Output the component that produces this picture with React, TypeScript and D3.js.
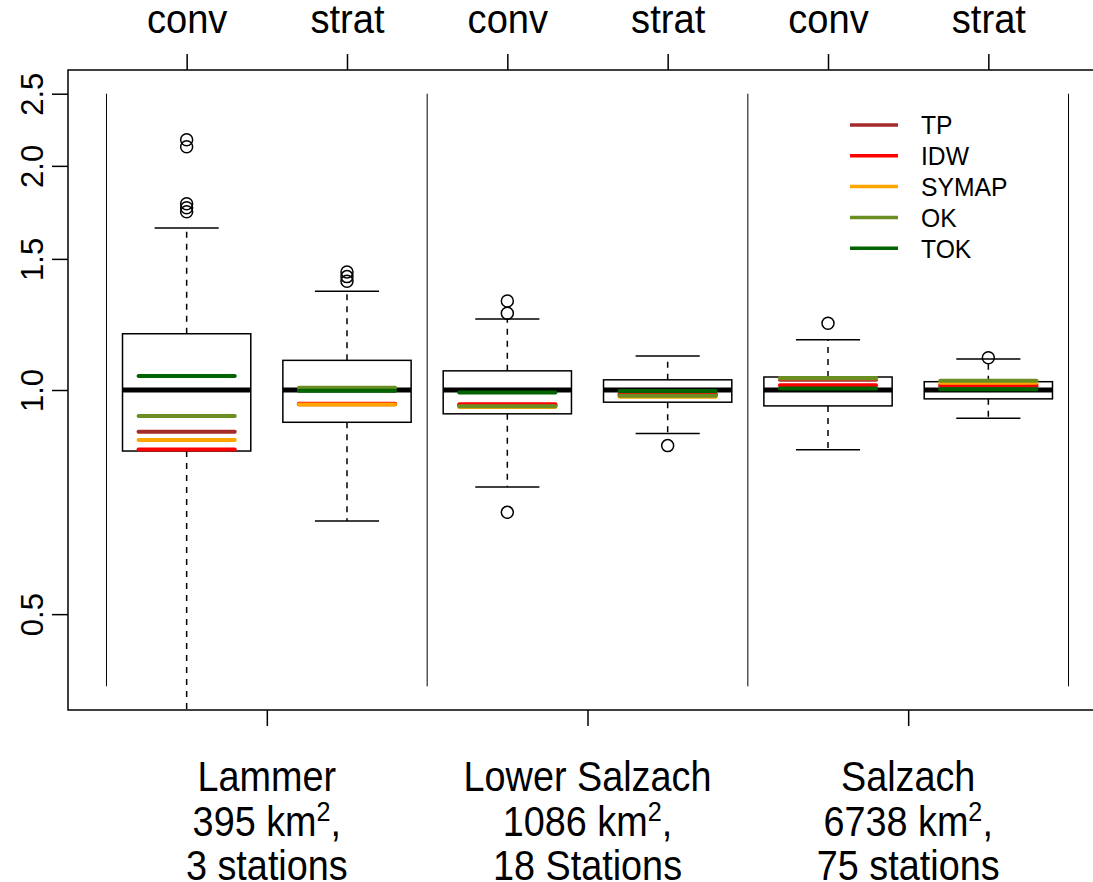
import React, { useEffect, useRef } from 'react';
import * as d3 from 'd3';

// categories
const boxLabels = ['conv', 'strat', 'conv', 'strat', 'conv', 'strat'];
const catchments = ['Lammer', 'Lower Salzach', 'Salzach'];
const areas = ['395', '1086', '6738'];
const stations = ['3 stations', '18 Stations', '75 stations'];

// box statistics (ratio, log axis), one entry per box
const whiskerLow = [0.33, 0.667, 0.741, 0.874, 0.831, 0.916];
const q1 = [0.828, 0.905, 0.929, 0.963, 0.952, 0.973];
const median = [1.0, 1.0, 1.0, 1.0, 1.0, 1.0];
const q3 = [1.19, 1.096, 1.061, 1.032, 1.041, 1.026];
const whiskerHigh = [1.65, 1.357, 1.246, 1.111, 1.168, 1.101];
const outliers = [
  [2.168, 2.122, 1.779, 1.757, 1.735],
  [1.44, 1.42, 1.40],
  [1.317, 1.268, 0.685],
  [0.842],
  [1.229],
  [1.105],
];

// interpolation methods, one value per box
const methods = ['TP', 'IDW', 'SYMAP', 'OK', 'TOK'];
const methodColors = ['brown', 'red', 'orange', 'olivedrab', 'darkgreen'];
const tp = [0.879, 0.957, 0.953, 0.988, 1.032, 1.012];
const idw = [0.832, 0.958, 0.957, 0.985, 1.015, 1.016];
const symap = [0.857, 0.956, 0.949, 0.979, 1.037, 1.023];
const ok = [0.923, 1.007, 0.951, 0.982, 1.038, 1.029];
const tok = [1.044, 0.998, 0.992, 0.997, 1.005, 1.002];
const methodValues = [tp, idw, symap, ok, tok];

const yTicks = [0.5, 1.0, 1.5, 2.0, 2.5];
const yLimits = [0.4, 2.5];
const separators = [0.5, 2.5, 4.5, 6.5];
const groupTicks = [1.5, 3.5, 5.5];

const FONT = '"Liberation Sans", Arial, Helvetica, sans-serif';

export default function App() {
  const ref = useRef<SVGSVGElement>(null);

  useEffect(() => {
    const svg = d3.select(ref.current);
    svg.selectAll('*').remove();

    const left = 68, right = 1107, top = 70, bottom = 710;

    const x = d3.scaleLinear().domain([0.26, 6.74]).range([left, right]);
    const pad = 0.04 * (Math.log(yLimits[1]) - Math.log(yLimits[0]));
    const y = d3.scaleLog()
      .domain([Math.exp(Math.log(yLimits[0]) - pad), Math.exp(Math.log(yLimits[1]) + pad)])
      .range([bottom, top]);

    svg.append('defs').append('clipPath').attr('id', 'plotclip')
      .append('rect')
      .attr('x', left).attr('y', top)
      .attr('width', right - left).attr('height', bottom - top);

    // frame
    svg.append('rect')
      .attr('x', left).attr('y', top)
      .attr('width', right - left).attr('height', bottom - top)
      .attr('fill', 'none').attr('stroke', 'black').attr('stroke-width', 1.5);

    const plot = svg.append('g').attr('clip-path', 'url(#plotclip)');

    // separators between catchments
    plot.selectAll('line.sep')
      .data(separators)
      .enter().append('line')
      .attr('class', 'sep')
      .attr('x1', d => x(d)).attr('x2', d => x(d))
      .attr('y1', y(yLimits[1])).attr('y2', y(yLimits[0]))
      .attr('stroke', 'black').attr('stroke-width', 1);

    boxLabels.forEach((_, k) => {
      const i = k + 1;
      const g = plot.append('g');
      // whiskers
      [[q3[k], whiskerHigh[k]], [q1[k], whiskerLow[k]]].forEach(([a, b]) => {
        g.append('line')
          .attr('x1', x(i)).attr('x2', x(i))
          .attr('y1', y(a)).attr('y2', y(b))
          .attr('stroke', 'black').attr('stroke-width', 1.5)
          .attr('stroke-dasharray', '6,6');
        g.append('line')
          .attr('x1', x(i - 0.2)).attr('x2', x(i + 0.2))
          .attr('y1', y(b)).attr('y2', y(b))
          .attr('stroke', 'black').attr('stroke-width', 1.5);
      });
      // box
      g.append('rect')
        .attr('x', x(i - 0.4)).attr('width', x(i + 0.4) - x(i - 0.4))
        .attr('y', y(q3[k])).attr('height', y(q1[k]) - y(q3[k]))
        .attr('fill', 'white').attr('stroke', 'black').attr('stroke-width', 1.5);
      // median
      g.append('line')
        .attr('x1', x(i - 0.4)).attr('x2', x(i + 0.4))
        .attr('y1', y(median[k])).attr('y2', y(median[k]))
        .attr('stroke', 'black').attr('stroke-width', 5);
      // method lines
      methodValues.forEach((vals, m) => {
        g.append('line')
          .attr('x1', x(i - 0.3)).attr('x2', x(i + 0.3))
          .attr('y1', y(vals[k])).attr('y2', y(vals[k]))
          .attr('stroke', methodColors[m]).attr('stroke-width', 4)
          .attr('stroke-linecap', 'round');
      });
      // outliers
      g.selectAll('circle')
        .data(outliers[k])
        .enter().append('circle')
        .attr('cx', x(i)).attr('cy', d => y(d)).attr('r', 6)
        .attr('fill', 'none').attr('stroke', 'black').attr('stroke-width', 1.5);
    });

    // top axis
    const topAxis = svg.append('g')
      .attr('transform', `translate(0,${top})`)
      .call(d3.axisTop(x).tickValues([1, 2, 3, 4, 5, 6])
        .tickFormat((d: any) => boxLabels[d - 1]).tickSize(16).tickPadding(21));
    topAxis.select('.domain').remove();
    topAxis.selectAll('line').attr('stroke-width', 1.5);
    topAxis.selectAll('text')
      .attr('font-family', FONT).attr('font-size', 41).attr('fill', 'black')
      .attr('transform', 'scale(0.93,1)');

    // left axis
    const leftAxis = svg.append('g')
      .attr('transform', `translate(${left},0)`)
      .call(d3.axisLeft(y).tickValues(yTicks).tickFormat(d3.format('.1f')).tickSize(16));
    leftAxis.select('.domain').remove();
    leftAxis.selectAll('line').attr('stroke-width', 1.5);
    leftAxis.selectAll('text')
      .attr('font-family', FONT).attr('font-size', 31).attr('fill', 'black')
      .attr('x', 0).attr('y', -25).attr('dy', 0)
      .attr('text-anchor', 'middle')
      .attr('transform', 'rotate(-90)');

    // bottom axis
    const bottomAxis = svg.append('g')
      .attr('transform', `translate(0,${bottom})`)
      .call(d3.axisBottom(x).tickValues(groupTicks).tickFormat(() => '').tickSize(16));
    bottomAxis.select('.domain').remove();
    bottomAxis.selectAll('line').attr('stroke-width', 1.5);

    groupTicks.forEach((t, j) => {
      const lab = svg.append('g')
        .attr('transform', `translate(${x(t)},0) scale(0.9,1)`)
        .attr('font-family', FONT).attr('font-size', 42).attr('text-anchor', 'middle');
      lab.append('text').attr('y', 791).text(catchments[j]);
      const t2 = lab.append('text').attr('y', 836);
      t2.append('tspan').text(`${areas[j]} km`);
      t2.append('tspan').attr('font-size', 28).attr('dy', -15).text('2');
      t2.append('tspan').attr('dy', 15).text(',');
      lab.append('text').attr('y', 880).text(stations[j]);
    });

    // legend
    const legend = svg.append('g');
    methods.forEach((name, m) => {
      const ly = 125 + m * 30.8;
      legend.append('line')
        .attr('x1', 850).attr('x2', 898).attr('y1', ly).attr('y2', ly)
        .attr('stroke', methodColors[m]).attr('stroke-width', 3.5);
      legend.append('text')
        .attr('transform', `translate(921,${ly}) scale(0.95,1)`)
        .attr('dy', '0.36em')
        .attr('font-family', FONT).attr('font-size', 26)
        .text(name);
    });
  }, []);

  return (
    <svg
      ref={ref}
      width={1093}
      height={882}
      style={{ position: 'absolute', left: 0, top: 0, background: 'white' }}
    />
  );
}
